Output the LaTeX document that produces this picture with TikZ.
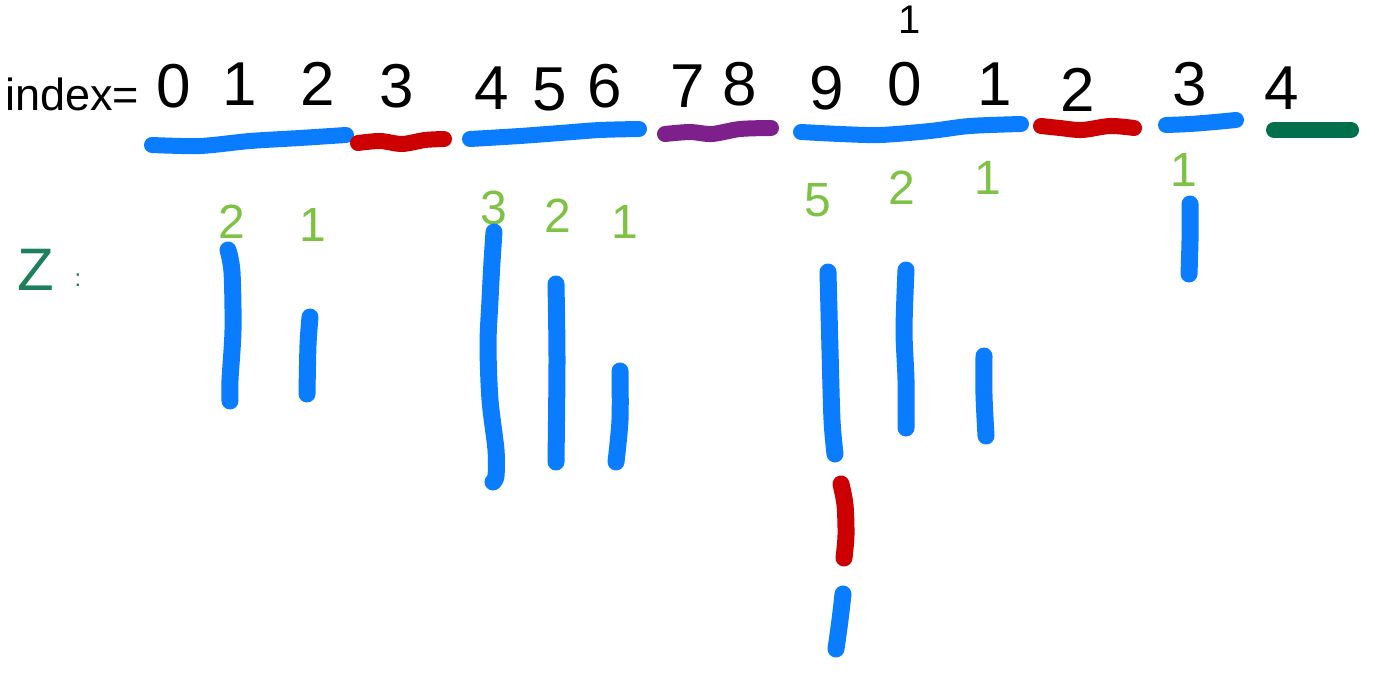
\documentclass[tikz,border=0pt]{standalone}
\usepackage{fontspec}
\setmainfont{Liberation Sans}
\definecolor{penblue}{RGB}{10,124,255}
\definecolor{penred}{RGB}{204,0,0}
\definecolor{penpurple}{RGB}{125,32,140}
\definecolor{pengreen}{RGB}{0,112,76}
\definecolor{lightgreen}{RGB}{125,194,66}
\definecolor{zteal}{RGB}{30,127,92}
\begin{document}
\begin{tikzpicture}[x=1pt,y=-1pt,
  idx/.style={font=\fontsize{62}{62}\selectfont, text=black, inner sep=0pt, anchor=center},
  cnt/.style={font=\fontsize{48}{48}\selectfont, text=lightgreen, inner sep=0pt, anchor=center},
  stroke/.style={line width=16pt, line cap=round, line join=round},
  bar/.style={line width=17pt, line cap=round, line join=round, penblue}]
\fill[white] (0,0) rectangle (1375,684);
\useasboundingbox (0,0) rectangle (1375,684);
% index label
\node[font=\fontsize{45}{45}\selectfont, inner sep=0pt] (lbl) at (72,94) {index=};
% digits
\node[idx] (d0) at (174,86) {0};
\node[idx] (d1) at (240,84) {1};
\node[idx] (d2) at (318,84) {2};
\node[idx] (d3) at (397,86) {3};
\node[idx] (d4) at (492,88) {4};
\node[idx] (d5) at (550,89) {5};
\node[idx] (d6) at (605,86) {6};
\node[idx] (d7) at (688,86) {7};
\node[idx] (d8) at (740,84) {8};
\node[idx] (d9) at (827,88) {9};
\node[idx] (d10) at (905,84) {0};
\node[font=\fontsize{40}{40}\selectfont, inner sep=0pt] (d10t) at (910,20) {1};
\node[idx] (d11) at (995,84) {1};
\node[idx] (d12) at (1078,90) {2};
\node[idx] (d13) at (1190,84) {3};
\node[idx] (d14) at (1282,88) {4};
% underlines
\draw[stroke, penblue] plot[smooth] coordinates {(152,145) (200,146) (250,141) (300,138) (346,135)};
\draw[stroke, penred] plot[smooth] coordinates {(358,143) (380,141) (402,144) (425,140) (444,139)};
\draw[stroke, penblue] plot[smooth] coordinates {(470,139) (520,136) (560,133) (600,130) (639,129)};
\draw[stroke, penpurple] plot[smooth] coordinates {(665,134) (690,132) (712,134) (740,129) (771,128)};
\draw[stroke, penblue] plot[smooth] coordinates {(801,132) (840,134) (880,135) (930,131) (970,126) (1021,124)};
\draw[stroke, penred] plot[smooth] coordinates {(1041,126) (1060,128) (1082,130) (1110,126) (1134,128)};
\draw[stroke, penblue] plot[smooth] coordinates {(1166,125) (1190,124) (1215,122) (1236,120)};
\draw[stroke, pengreen] plot[smooth] coordinates {(1274,130) (1310,130) (1351,130)};
% Z label
\node[font=\fontsize{60}{60}\selectfont, text=zteal, inner sep=0pt] (zl) at (36,270) {Z};
\node[font=\fontsize{24}{24}\selectfont, text=zteal, inner sep=0pt] (zc) at (78,280) {:};
% counts
\node[cnt] (c1) at (232,222) {2};
\node[cnt] (c2) at (313,225) {1};
\node[cnt] (c3) at (494,208) {3};
\node[cnt] (c4) at (558,216) {2};
\node[cnt] (c5) at (625,222) {1};
\node[cnt] (c6) at (818,200) {5};
\node[cnt] (c7) at (902,188) {2};
\node[cnt] (c8) at (988,178) {1};
\node[cnt] (c9) at (1184,170) {1};
% vertical bars
\draw[bar] plot[smooth] coordinates {(228,250) (232,272) (233,330) (230,380) (230,401)};
\draw[bar] plot[smooth] coordinates {(310,317) (308,345) (307,394)};
\draw[bar] plot[smooth] coordinates {(494,232) (492,262) (490,300) (488,345) (490,400) (496,450) (496,476) (493,482)};
\draw[bar] plot[smooth] coordinates {(556,284) (557,360) (556,462)};
\draw[bar] plot[smooth] coordinates {(620,371) (620,420) (616,462)};
\draw[bar] plot[smooth] coordinates {(828,272) (830,350) (832,420) (835,454)};
\draw[bar] plot[smooth] coordinates {(906,270) (904,330) (906,380) (906,428)};
\draw[bar] plot[smooth] coordinates {(984,356) (984,395) (986,436)};
\draw[bar] plot[smooth] coordinates {(1190,204) (1190,240) (1189,274)};
\draw[bar, penred] plot[smooth] coordinates {(841,484) (845,505) (846,535) (844,558)};
\draw[bar] plot[smooth] coordinates {(843,594) (840,620) (836,649)};
\end{tikzpicture}
\end{document}
